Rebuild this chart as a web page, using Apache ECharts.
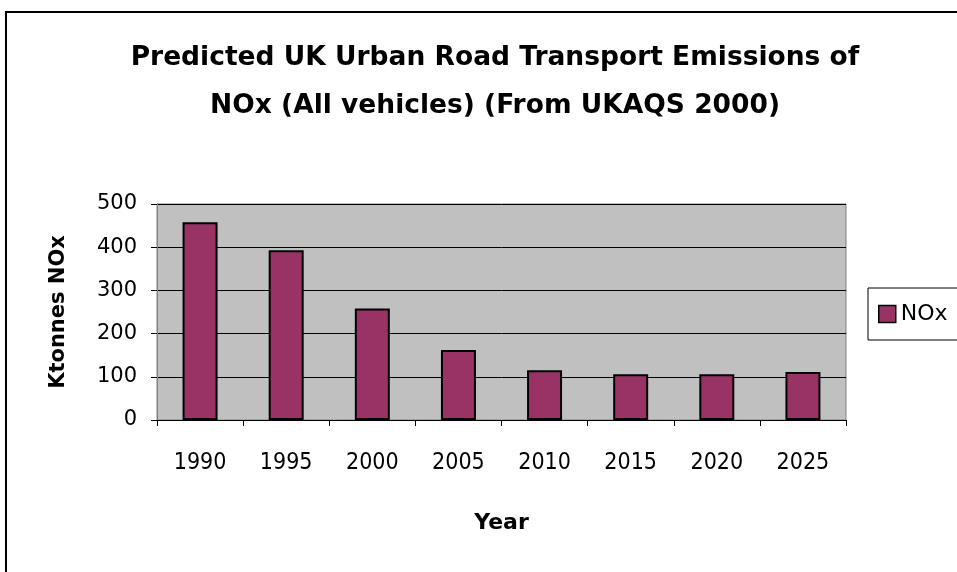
<!DOCTYPE html>
<html>
<head>
<meta charset="utf-8">
<script src="https://cdn.jsdelivr.net/npm/echarts@6/dist/echarts.min.js"></script>
<style>
  html, body { margin: 0; padding: 0; background: #fff; }
  #chart { width: 957px; height: 572px; }
</style>
</head>
<body>
<div id="chart"></div>
<script>
const years = ['1990', '1995', '2000', '2005', '2010', '2015', '2020', '2025'];
const noxValues = [458, 393, 258, 162, 115, 106, 106, 111];
const yTicks = [0, 100, 200, 300, 400, 500];

const chart = echarts.init(document.getElementById('chart'));

const option = {
    animation: false,
    backgroundColor: '#fff',
    title: {
        text: 'Predicted UK Urban Road Transport Emissions of\nNOx (All vehicles) (From UKAQS 2000)',
        left: 490,
        top: 29,
        textAlign: 'center',
        textStyle: {
            fontFamily: 'DejaVu Sans',
            fontSize: 26.5,
            fontWeight: 'bold',
            color: '#000',
            lineHeight: 48
        }
    },
    graphic: [
        {
            type: 'rect',
            shape: { x: 6, y: 12, width: 1000, height: 600 },
            style: { fill: 'none', stroke: '#000', lineWidth: 2 },
            silent: true
        }
    ],
    legend: {
        data: ['NOx'],
        left: 868,
        top: 288,
        orient: 'vertical',
        padding: [15, 40, 15, 10],
        borderColor: '#000',
        borderWidth: 1,
        itemWidth: 17,
        itemHeight: 17,
        itemGap: 5,
        icon: 'rect',
        itemStyle: { borderColor: '#000', borderWidth: 1.5 },
        textStyle: {
            fontFamily: 'DejaVu Sans',
            fontSize: 22,
            color: '#000'
        }
    },
    grid: {
        left: 157,
        right: 111,
        top: 204,
        bottom: 152,
        show: true,
        backgroundColor: '#c0c0c0',
        borderColor: '#808080',
        borderWidth: 1
    },
    xAxis: {
        type: 'category',
        data: years,
        name: 'Year',
        nameLocation: 'middle',
        nameGap: 92,
        nameTextStyle: {
            fontFamily: 'DejaVu Sans',
            fontSize: 22,
            fontWeight: 'bold',
            color: '#000'
        },
        axisLine: { lineStyle: { color: '#000', width: 1 } },
        axisTick: { show: true, length: 6, lineStyle: { color: '#000' } },
        axisLabel: {
            margin: 32,
            fontFamily: 'DejaVu Sans Condensed',
            fontSize: 23,
            color: '#000'
        }
    },
    yAxis: {
        type: 'value',
        min: yTicks[0],
        max: yTicks[yTicks.length - 1],
        interval: 100,
        name: 'Ktonnes NOx',
        nameLocation: 'middle',
        nameGap: 88,
        nameTextStyle: {
            fontFamily: 'DejaVu Sans',
            fontSize: 21,
            fontWeight: 'bold',
            color: '#000'
        },
        axisLine: { show: true, lineStyle: { color: '#808080', width: 1 } },
        axisTick: { show: true, length: 6, lineStyle: { color: '#000' } },
        axisLabel: {
            margin: 20,
            fontFamily: 'DejaVu Sans',
            fontSize: 21,
            color: '#000'
        },
        splitLine: { lineStyle: { color: '#000', width: 1 } }
    },
    series: [
        {
            name: 'NOx',
            type: 'bar',
            data: noxValues,
            barWidth: 35,
            itemStyle: {
                color: '#993366',
                borderColor: '#000',
                borderWidth: 2
            }
        }
    ]
};

chart.setOption(option);
</script>
</body>
</html>
